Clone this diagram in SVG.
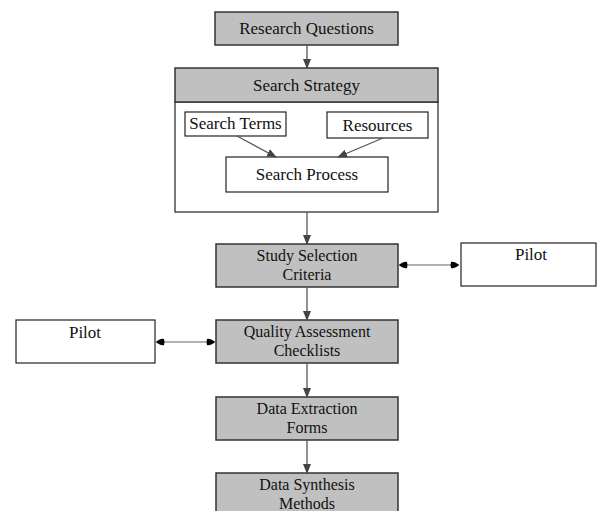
<svg xmlns="http://www.w3.org/2000/svg" width="597" height="511" viewBox="0 0 597 511">
<style>
text{font-family:"Liberation Serif","Times New Roman",serif;font-size:17px;fill:#111;text-anchor:middle}
text.t{font-size:16px}
.g{fill:#c0c0c0;stroke:#333;stroke-width:1.5}
.w{fill:#fff;stroke:#222;stroke-width:1.2}
.c{stroke:#555;stroke-width:1.3;fill:none}
.b{stroke:#999;stroke-width:1.5;fill:none}
</style>
<defs>
<marker id="arr" markerWidth="10" markerHeight="10" refX="9" refY="5" orient="auto" markerUnits="userSpaceOnUse"><path d="M0,1 L10,5 L0,9 Z" fill="#444"/></marker>
<marker id="dot" markerWidth="10" markerHeight="10" refX="9" refY="5" orient="auto-start-reverse" markerUnits="userSpaceOnUse"><path d="M1,2 Q4,1 9,5 Q4,9 1,8 Q0,5 1,2 Z" fill="#000"/></marker>
</defs>
<g id="research-questions"><rect class="g" x="215" y="12" width="183" height="33"/><text x="306.5" y="34">Research Questions</text></g>
<g id="search-strategy">
<rect class="w" x="175" y="102" width="263" height="110"/>
<rect class="g" x="175" y="68" width="263" height="34"/><text x="306.5" y="91">Search Strategy</text>
</g>
<g id="search-terms"><rect class="w" x="185" y="112" width="101" height="24"/><text x="235.5" y="129">Search Terms</text></g>
<g id="resources"><rect class="w" x="327" y="112" width="101" height="26"/><text x="377.5" y="131">Resources</text></g>
<g id="search-process"><rect class="w" x="226" y="157" width="162" height="35"/><text x="307" y="180">Search Process</text></g>
<g id="study-selection"><rect class="g" x="216" y="244" width="182" height="43"/><text class="t" x="307" y="261">Study Selection</text><text class="t" x="307" y="280">Criteria</text></g>
<g id="pilot-right"><rect class="w" x="461" y="243" width="135" height="43"/><text x="531" y="260">Pilot</text></g>
<g id="quality-assessment"><rect class="g" x="216" y="320" width="182" height="43"/><text class="t" x="307" y="337">Quality Assessment</text><text class="t" x="307" y="356">Checklists</text></g>
<g id="pilot-left"><rect class="w" x="16" y="320" width="139" height="43"/><text x="85" y="338">Pilot</text></g>
<g id="data-extraction"><rect class="g" x="216" y="397" width="182" height="43"/><text class="t" x="307" y="414">Data Extraction</text><text class="t" x="307" y="433">Forms</text></g>
<g id="data-synthesis"><rect class="g" x="216" y="473" width="182" height="45"/><text class="t" x="307" y="490">Data Synthesis</text><text class="t" x="307" y="509">Methods</text></g>
<g id="connectors">
<line class="c" x1="307" y1="45" x2="307" y2="68" marker-end="url(#arr)"/>
<line class="c" x1="237" y1="136" x2="276" y2="157" marker-end="url(#arr)"/>
<line class="c" x1="383" y1="138" x2="338" y2="157" marker-end="url(#arr)"/>
<line class="c" x1="307" y1="212" x2="307" y2="244" marker-end="url(#arr)"/>
<line class="c" x1="307" y1="287" x2="307" y2="320" marker-end="url(#arr)"/>
<line class="c" x1="307" y1="363" x2="307" y2="397" marker-end="url(#arr)"/>
<line class="c" x1="307" y1="440" x2="307" y2="473" marker-end="url(#arr)"/>
<line class="b" x1="399" y1="265" x2="459" y2="265" marker-start="url(#dot)" marker-end="url(#dot)"/>
<line class="b" x1="156" y1="342" x2="215" y2="342" marker-start="url(#dot)" marker-end="url(#dot)"/>
</g>
</svg>
